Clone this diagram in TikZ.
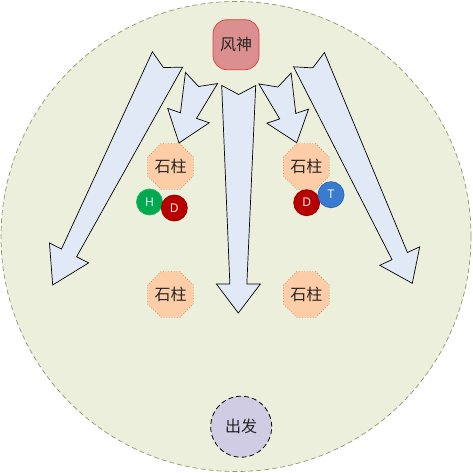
\documentclass[tikz,border=0pt]{standalone}
\usepackage{fontspec}
\newfontfamily\cjk{Noto Sans CJK SC}
\newfontfamily\lat{Open Sans}
\usetikzlibrary{calc,shapes.geometric}
\definecolor{bgfill}{HTML}{EBEFDC}
\definecolor{bgline}{HTML}{8F9B6B}
\definecolor{arrfill}{HTML}{E2E9F6}
\definecolor{godfill}{HTML}{DC8F8F}
\definecolor{godline}{HTML}{D9403A}
\definecolor{pilfill}{HTML}{FCCDA6}
\definecolor{pilline}{HTML}{C98A4E}
\definecolor{hfill}{HTML}{00A84F}
\definecolor{hline}{HTML}{22B85E}
\definecolor{dfill}{HTML}{B80000}
\definecolor{dline}{HTML}{9A0000}
\definecolor{tfill}{HTML}{3A7BD0}
\definecolor{tline}{HTML}{2F68B5}
\definecolor{startfill}{HTML}{D0CCE3}
\newcommand\fatarr[3]{%
  \coordinate (fa-b) at ($(#2)!#3!(#1)$);
  \draw[fatarrow] ($(#1)!17pt!90:(#2)$) -- ($(fa-b)!8.5pt!90:(#2)$) -- ($(fa-b)!22pt!90:(#2)$) -- (#2)
     -- ($(fa-b)!22pt!-90:(#2)$) -- ($(fa-b)!8.5pt!-90:(#2)$) -- ($(#1)!17pt!-90:(#2)$) -- ($(#1)!9pt!(#2)$) -- cycle;
}
\begin{document}
\begin{tikzpicture}[x=1pt,y=-1pt,
  arena/.style={circle,draw=bgline,fill=bgfill,dash pattern=on 5pt off 3pt,line width=0.7pt,minimum size=470pt,inner sep=0pt},
  fatarrow/.style={draw=black,fill=arrfill,line width=0.7pt,line join=miter},
  god/.style={rectangle,rounded corners=14pt,draw=godline,fill=godfill,line width=0.7pt,minimum width=46pt,minimum height=50pt,inner sep=0pt,font=\cjk\fontsize{16}{18}\selectfont,text=black!85},
  pillar/.style={regular polygon,regular polygon sides=8,draw=pilline,fill=pilfill,dotted,line width=0.7pt,minimum size=49.5pt,inner sep=0pt,font=\cjk\fontsize{16}{18}\selectfont,text=black!85},
  token/.style={circle,minimum size=26pt,inner sep=0pt,line width=0.8pt,text=white,font=\lat\fontsize{12}{14}\selectfont},
  start/.style={circle,draw=black,fill=startfill,dash pattern=on 5pt off 3pt,line width=0.8pt,minimum size=61pt,inner sep=0pt,font=\cjk\fontsize{16}{18}\selectfont,text=black!85}
]
\useasboundingbox (0,0) rectangle (473,473);
\node[arena] (arena) at (236,236.5) {};
\node[god] (god) at (236,44.7) {风神};
\node[pillar] (p1) at (170.5,166.5) {石柱};
\node[pillar] (p2) at (306.3,166.5) {石柱};
\node[pillar] (p3) at (170.5,294.5) {石柱};
\node[pillar] (p4) at (306.3,294.5) {石柱};
\node[start] (start) at (241.2,426.7) {出发};
% arrows
\coordinate (a1t) at (167.5,59.5);  \coordinate (a1e) at (52.7,285);
\coordinate (a2t) at (201.5,78);    \coordinate (a2e) at (179,143);
\coordinate (a3t) at (238.7,85.5);  \coordinate (a3e) at (238.3,313);
\coordinate (a4t) at (275,78.5);    \coordinate (a4e) at (296.7,142.7);
\coordinate (a5t) at (309,59.7);    \coordinate (a5e) at (412.3,283.3);
\fatarr{a1t}{a1e}{36pt}
\fatarr{a2t}{a2e}{29pt}
\fatarr{a3t}{a3e}{29pt}
\fatarr{a4t}{a4e}{28pt}
\fatarr{a5t}{a5e}{30pt}
% tokens
\node[token,draw=hline,fill=hfill] (h1) at (149.5,202) {H};
\node[token,draw=dline,fill=dfill] (d1) at (174.3,208) {D};
\node[token,draw=dline,fill=dfill] (d2) at (306.7,202.7) {D};
\node[token,draw=tline,fill=tfill] (t2) at (331,194.7) {T};
\end{tikzpicture}
\end{document}
